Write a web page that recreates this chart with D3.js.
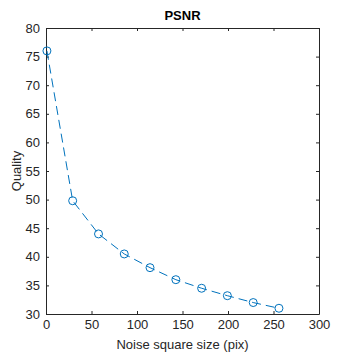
<!DOCTYPE html>
<html>
<head>
<meta charset="utf-8">
<script src="https://cdn.jsdelivr.net/npm/d3@7"></script>
<style>
  body { margin: 0; background: #fff; }
  text { font-family: "Liberation Sans", Arial, sans-serif; }
</style>
</head>
<body>
<svg width="354" height="354"></svg>
<script>
const sizes = [1, 29.3, 57.7, 86, 114.3, 142.7, 171, 199.3, 227.7, 256];
const psnr = [76.0, 49.8, 44.0, 40.5, 38.1, 36.0, 34.5, 33.2, 32.0, 31.0];
const xTicks = [0, 50, 100, 150, 200, 250, 300];
const yTicks = [30, 35, 40, 45, 50, 55, 60, 65, 70, 75, 80];

const svg = d3.select("svg"),
    margin = {top: 28, right: 35, bottom: 40, left: 46},
    width = +svg.attr("width") - margin.left - margin.right,
    height = +svg.attr("height") - margin.top - margin.bottom;

const chart = svg.append("g").attr("transform", `translate(${margin.left},${margin.top})`);

const x = d3.scaleLinear().domain([0, 300]).range([0, width]);
const y = d3.scaleLinear().domain([30, 80]).range([height, 0]);

const axisColor = "#262626";

function styleAxis(g) {
  g.select(".domain").attr("stroke", axisColor);
  g.selectAll(".tick line").attr("stroke", axisColor);
  g.selectAll(".tick text").attr("fill", axisColor).style("font-size", "13px");
}

chart.append("g")
    .attr("transform", `translate(0,${height})`)
    .call(d3.axisBottom(x).tickValues(xTicks).tickSizeInner(-3).tickSizeOuter(0).tickPadding(6))
    .call(styleAxis);

chart.append("g")
    .call(d3.axisTop(x).tickValues(xTicks).tickSizeInner(-3).tickSizeOuter(0).tickFormat(""))
    .call(styleAxis);

chart.append("g")
    .call(d3.axisLeft(y).tickValues(yTicks).tickSizeInner(-3).tickSizeOuter(0).tickPadding(6))
    .call(styleAxis);

chart.append("g")
    .attr("transform", `translate(${width},0)`)
    .call(d3.axisRight(y).tickValues(yTicks).tickSizeInner(-3).tickSizeOuter(0).tickFormat(""))
    .call(styleAxis);

const pts = sizes.map((s, i) => [s, psnr[i]]);

chart.append("path")
    .datum(pts)
    .attr("fill", "none")
    .attr("stroke", "#0072BD")
    .attr("stroke-width", 1)
    .attr("stroke-dasharray", "9,5")
    .attr("d", d3.line().x(d => x(d[0])).y(d => y(d[1])));

chart.selectAll("circle")
    .data(pts)
    .join("circle")
    .attr("cx", d => x(d[0]))
    .attr("cy", d => y(d[1]))
    .attr("r", 4)
    .attr("fill", "none")
    .attr("stroke", "#0072BD")
    .attr("stroke-width", 1);

svg.append("text")
    .attr("x", margin.left + width / 2)
    .attr("y", 20)
    .attr("text-anchor", "middle")
    .style("font-size", "13px")
    .style("font-weight", "bold")
    .text("PSNR");

svg.append("text")
    .attr("x", margin.left + width / 2)
    .attr("y", 349)
    .attr("text-anchor", "middle")
    .attr("fill", axisColor)
    .style("font-size", "13px")
    .text("Noise square size (pix)");

svg.append("text")
    .attr("transform", `translate(21,${margin.top + height / 2}) rotate(-90)`)
    .attr("text-anchor", "middle")
    .attr("fill", axisColor)
    .style("font-size", "13px")
    .text("Quality");
</script>
</body>
</html>
